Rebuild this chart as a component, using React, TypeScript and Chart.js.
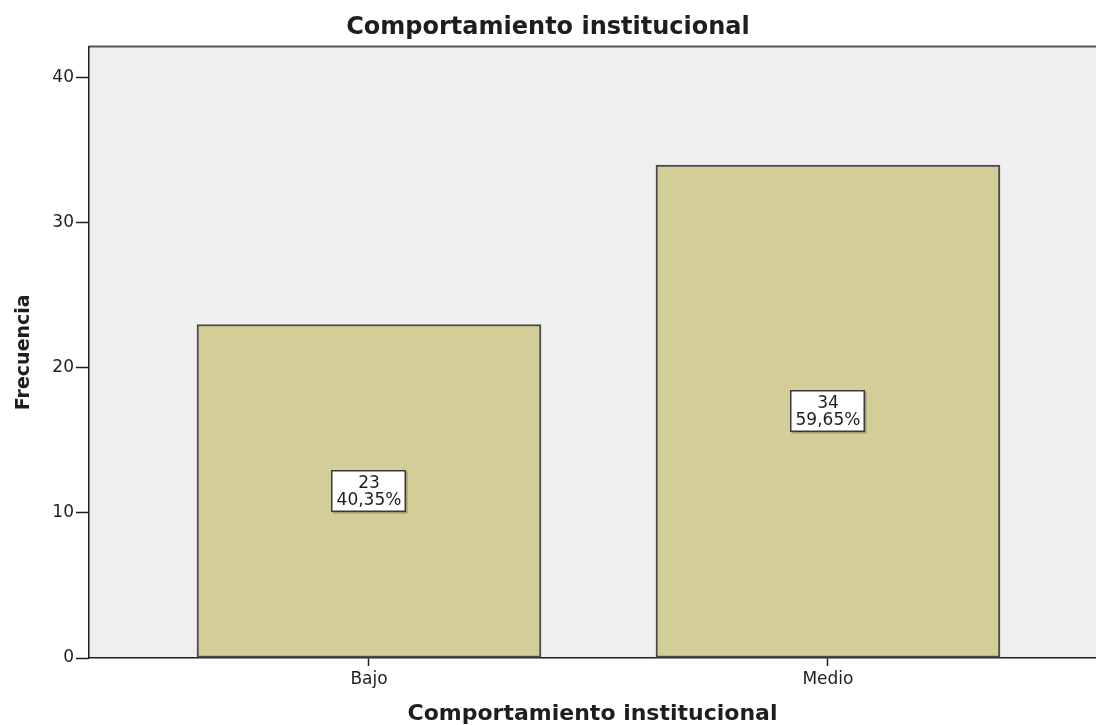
import React, { useEffect, useRef } from "react";
import { Chart, registerables } from "chart.js";

Chart.register(...registerables);

// Frequency table for "Comportamiento institucional"
const categories: string[] = ["Bajo", "Medio"];
const frequencies: number[] = [23, 34];
const yTicks: number[] = [0, 10, 20, 30, 40];

const TITLE = "Comportamiento institucional";
const X_TITLE = "Comportamiento institucional";
const Y_TITLE = "Frecuencia";

const BAR_FILL = "#d3cd97";
const BAR_EDGE = "#4a4a4a";
const PLOT_BG = "#efefef";
const INK = "#1e1e1e";
const FONT = "'DejaVu Sans', sans-serif";

const total = frequencies.reduce((a, b) => a + b, 0);
const pctText = (v: number) => ((v / total) * 100).toFixed(2).replace(".", ",") + "%";

// Light gray panel behind the bars, with a thin rule along its top edge
const plotPanel = {
  id: "plotPanel",
  beforeDraw(chart: any) {
    const { ctx, chartArea } = chart;
    ctx.save();
    ctx.fillStyle = PLOT_BG;
    ctx.fillRect(chartArea.left, chartArea.top, chartArea.right - chartArea.left, chartArea.bottom - chartArea.top);
    ctx.strokeStyle = "#555555";
    ctx.lineWidth = 2;
    ctx.beginPath();
    ctx.moveTo(chartArea.left, chartArea.top);
    ctx.lineTo(chartArea.right, chartArea.top);
    ctx.stroke();
    ctx.restore();
  },
};

// Count and percentage box at mid-height of every bar
const valueBoxes = {
  id: "valueBoxes",
  afterDatasetsDraw(chart: any) {
    const { ctx } = chart;
    const meta = chart.getDatasetMeta(0);
    const yScale = chart.scales.y;
    ctx.save();
    ctx.font = `17px ${FONT}`;
    meta.data.forEach((bar: any, i: number) => {
      const v = frequencies[i];
      const cx = bar.x;
      const cy = yScale.getPixelForValue(v / 2);
      const w = 75;
      const h = 42;
      const x0 = Math.round(cx - w / 2);
      const y0 = Math.round(cy - h / 2);
      ctx.fillStyle = "rgba(0,0,0,0.25)";
      ctx.fillRect(x0 + 1.5, y0 + 1.5, w, h);
      ctx.fillStyle = "#ffffff";
      ctx.fillRect(x0, y0, w, h);
      ctx.strokeStyle = "#3a3a3a";
      ctx.lineWidth = 1.5;
      ctx.strokeRect(x0 + 0.75, y0 + 0.75, w - 1.5, h - 1.5);
      ctx.fillStyle = INK;
      ctx.textAlign = "center";
      ctx.textBaseline = "middle";
      ctx.fillText(String(v), cx, cy - 7.5);
      ctx.fillText(pctText(v), cx, cy + 9.5);
    });
    ctx.restore();
  },
};

export default function App() {
  const canvasRef = useRef<HTMLCanvasElement | null>(null);

  useEffect(() => {
    if (!canvasRef.current) return;
    const chart = new Chart(canvasRef.current, {
      type: "bar",
      data: {
        datasets: [
          {
            label: Y_TITLE,
            data: categories.map((_, i) => ({ x: i, y: frequencies[i] })),
            backgroundColor: BAR_FILL,
            borderColor: BAR_EDGE,
            borderWidth: 2,
            borderSkipped: false,
            barThickness: 344,
          },
        ],
      },
      options: {
        responsive: false,
        animation: false,
        devicePixelRatio: 1,
        layout: { padding: 0 },
        plugins: {
          legend: { display: false },
          tooltip: { enabled: false },
          title: {
            display: true,
            text: TITLE,
            color: INK,
            font: { family: FONT, size: 24, weight: "bold", lineHeight: 1.2 },
            padding: { top: 13, bottom: 4.7 },
          },
        },
        scales: {
          x: {
            type: "linear",
            offset: false,
            min: -0.61,
            max: 1.584,
            afterBuildTicks: (scale: any) => {
              scale.ticks = categories.map((_, i) => ({ value: i }));
            },
            afterFit: (scale: any) => {
              scale.height = 67;
            },
            ticks: {
              callback: (value: any) => categories[Number(value)] ?? "",
              color: INK,
              font: { family: FONT, size: 17 },
              padding: 3,
              maxRotation: 0,
              autoSkip: false,
            },
            grid: {
              offset: false,
              drawOnChartArea: false,
              drawTicks: true,
              tickLength: 8,
              tickColor: INK,
              tickWidth: 1.5,
            },
            border: { display: true, color: INK, width: 1.5 },
            title: {
              display: true,
              text: X_TITLE,
              color: INK,
              font: { family: FONT, size: 22, weight: "bold", lineHeight: 1 },
              padding: { top: 0, bottom: 0 },
            },
          },
          y: {
            type: "linear",
            min: 0,
            max: 42.17,
            afterBuildTicks: (scale: any) => {
              scale.ticks = yTicks.map((v) => ({ value: v }));
            },
            afterFit: (scale: any) => {
              scale.width = 89;
            },
            ticks: {
              color: INK,
              font: { family: FONT, size: 17 },
              padding: 2,
            },
            grid: {
              drawOnChartArea: false,
              drawTicks: true,
              tickLength: 13,
              tickColor: INK,
              tickWidth: 1.5,
            },
            border: { display: true, color: INK, width: 1.5 },
            title: {
              display: true,
              text: Y_TITLE,
              color: INK,
              font: { family: FONT, size: 19, weight: "bold", lineHeight: 1.2 },
              padding: { top: 13, bottom: 0 },
            },
          },
        },
      },
      plugins: [plotPanel, valueBoxes],
    });
    return () => chart.destroy();
  }, []);

  return (
    <div style={{ position: "absolute", left: 0, top: 0, width: 1096, height: 725, background: "#ffffff" }}>
      <canvas ref={canvasRef} width={1096} height={725} style={{ display: "block" }} />
    </div>
  );
}
